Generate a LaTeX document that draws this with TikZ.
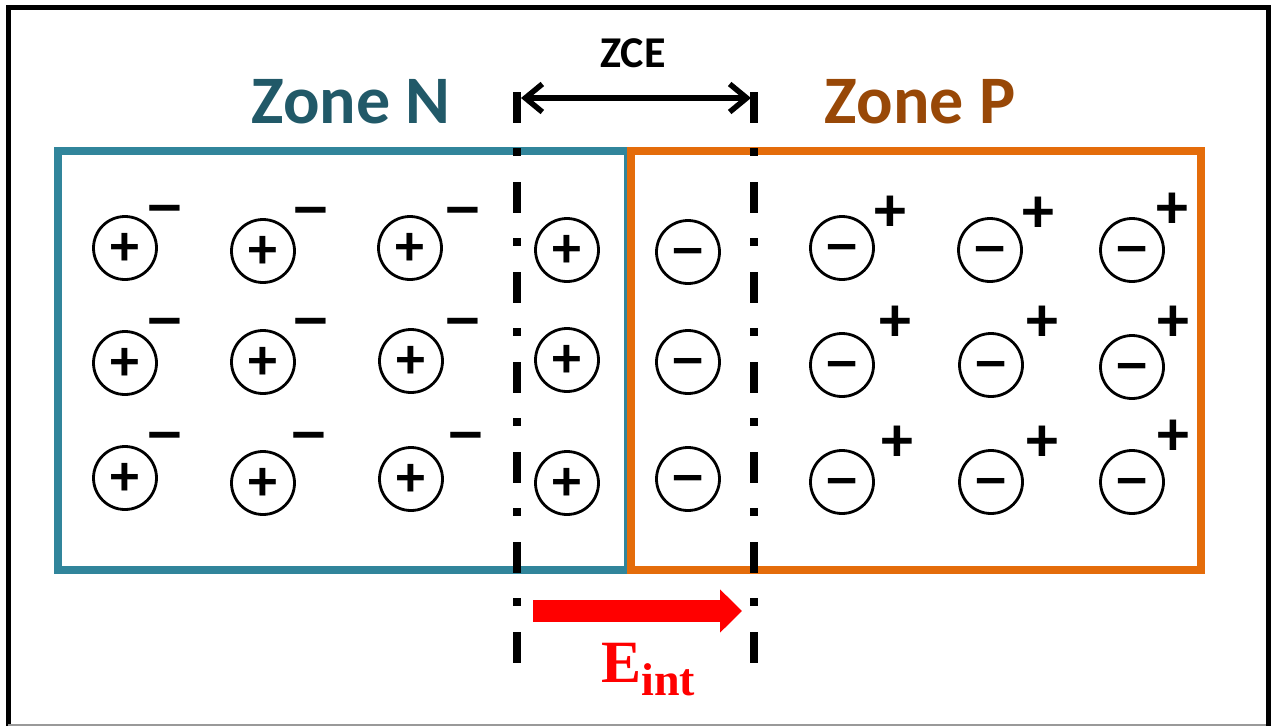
\documentclass[tikz,border=0pt]{standalone}
\usepackage{fontspec}
\usetikzlibrary{arrows.meta}
\newfontfamily\calfont{Carlito}
\newfontfamily\timesfont{Liberation Serif}
\definecolor{nblue}{RGB}{49,133,155}
\definecolor{ntext}{RGB}{33,89,104}
\definecolor{porange}{RGB}{228,108,10}
\definecolor{ptext}{RGB}{152,72,7}
\newcommand{\mns}{\scalebox{1.22}[1]{−}}
\begin{document}
\begin{tikzpicture}[x=1pt,y=-1pt,
  ioncirc/.style={circle,draw,line width=2.8pt,minimum size=63pt,inner sep=0pt,
    text height=34pt,text depth=0pt,
    font=\calfont\bfseries\fontsize{58}{58}\selectfont},
  supsign/.style={inner sep=0pt,text height=40pt,text depth=0pt,
    font=\calfont\bfseries\fontsize{64}{64}\selectfont},
  zonebox/.style={line width=7.5pt,minimum width=570pt,minimum height=419pt,
    inner sep=0pt,outer sep=0pt,anchor=north west},
  zonelabel/.style={anchor=base,inner sep=0pt,font=\calfont\bfseries\fontsize{68}{70}\selectfont},
  dashdotline/.style={line width=8pt,dash pattern=on 31pt off 25pt on 8pt off 26pt}]
\useasboundingbox (0,0) rectangle (1271,726);
% outer frame
\draw[line width=5pt] (8.5,726) -- (8.5,7.5) -- (1268,7.5) -- (1268,726);
\draw[black!40,line width=1.5pt] (8,725) -- (1266,725);
% zone boxes
\node[zonebox,draw=nblue] (zoneN) at (58,151) {};
\node[zonebox,draw=porange] (zoneP) at (631,151) {};
% zone labels
\node[zonelabel,text=ntext] (labN) at (351,123) {Zone N};
\node[zonelabel,text=ptext] (labP) at (920,123) {Zone P};
\node[anchor=base,inner sep=0pt,font=\calfont\bfseries\fontsize{44}{44}\selectfont] (zce) at (633,67) {ZCE};
% dash-dot boundaries
\coordinate (dlt) at (517,92); \coordinate (dlb) at (517,663);
\coordinate (drt) at (754,92); \coordinate (drb) at (754,663);
\draw[dashdotline] (dlt) -- (dlb);
\draw[dashdotline] (drt) -- (drb);
% ZCE arrow
\coordinate (zal) at (521,98); \coordinate (zar) at (751,98);
\draw[line width=5.5pt,{Straight Barb[length=17pt,width=28pt]}-{Straight Barb[length=17pt,width=28pt]}] (zal) -- (zar);
% N zone ions
\foreach \cx/\cy/\sx/\sy [count=\i] in {125/248/165/208,263/251/311/210,410/248/463/210,
  125/363/165/321,263/362/311/321,411/361/463/321,
  125/478/165/435,263/483/309/435,411/479/466/435}{
  \node[ioncirc] (n\i) at (\cx,\cy) {+};
  \node[supsign] (ns\i) at (\sx,\sy) {\mns};
}
% depletion zone ions
\foreach \cy [count=\i] in {250,360,483}{
  \node[ioncirc] (zp\i) at (567,\cy) {+};
}
\foreach \cy [count=\i] in {252,362,479}{
  \node[ioncirc] (zm\i) at (688,\cy) {\mns};
}
% P zone ions
\foreach \cx/\cy/\sx/\sy [count=\i] in {842/248/890/211,990/250/1038/212,1132/250/1172/208,
  842/365/895/321,991/365/1042/321,1132/367/1173/321,
  842/482/897/441,991/482/1042/441,1132/482/1173/435}{
  \node[ioncirc] (p\i) at (\cx,\cy) {\mns};
  \node[supsign] (ps\i) at (\sx,\sy) {+};
}
% internal field
\coordinate (eas) at (533,611); \coordinate (eae) at (742,611);
\draw[red,line width=22pt,-{Triangle[length=22pt,width=42pt]}] (eas) -- (eae);
\node[anchor=base west,inner sep=0pt,text=red,font=\timesfont\bfseries\fontsize{60}{60}\selectfont] (eint) at (601,682) {E\raisebox{-13pt}{\fontsize{46}{46}\selectfont int}};
\end{tikzpicture}
\end{document}
